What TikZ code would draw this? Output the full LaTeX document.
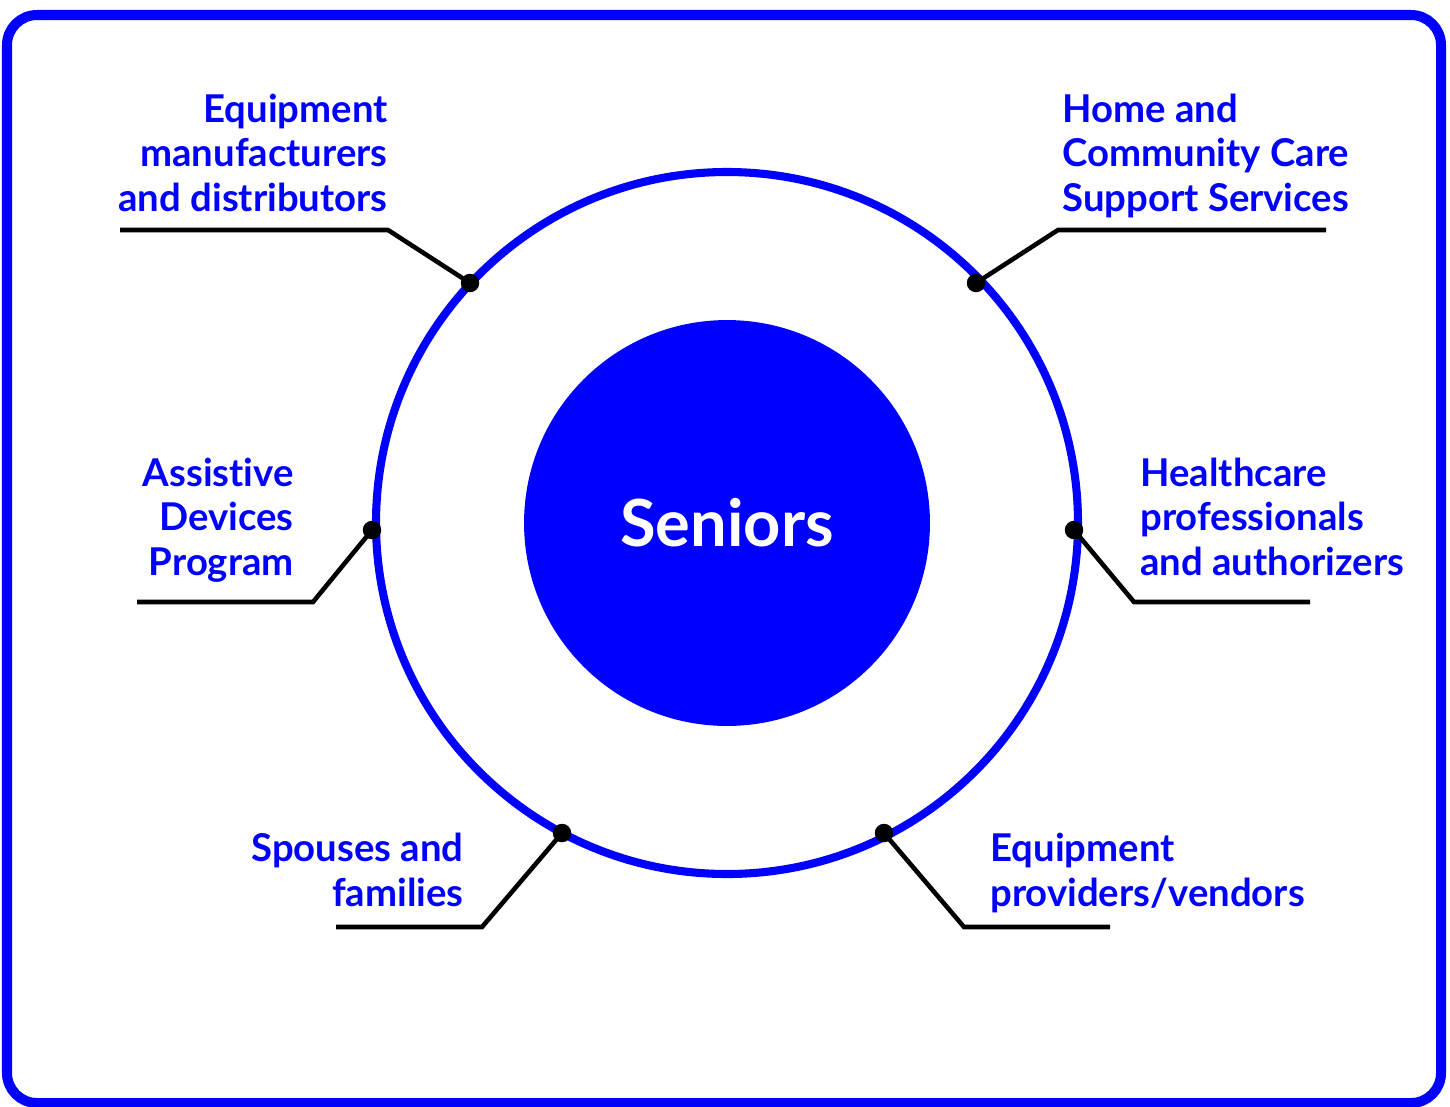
\documentclass[tikz,border=0pt]{standalone}
\usepackage{fontspec}
\setmainfont{Lato}[Ligatures={NoCommon}]
\usepackage{xcolor}
\definecolor{seniorblue}{RGB}{0,0,255}
\usetikzlibrary{positioning}

\tikzset{
  lbl/.style={text=seniorblue, font=\bfseries\fontsize{21.8}{25.3}\selectfont, inner sep=0pt},
  lead/.style={draw=black, line width=2.6pt},
  pin/.style={circle, fill=black, inner sep=0pt, minimum size=0.37cm}
}

\begin{document}
\begin{tikzpicture}[x=0.02cm, y=-0.02cm]

        \useasboundingbox (0,0) rectangle (1450,1106);
        \draw[seniorblue, line width=5.7pt, rounded corners=0.6cm] (7,15) rectangle (1441,1103);

        % rings
        \draw[seniorblue, line width=4.6pt] (727,523) circle (351);
        \node[circle, fill=seniorblue, minimum size=8.12cm, inner sep=0pt] (seniors) at (727,523) {};
        \node[text=white, font=\bfseries\fontsize{37}{40}\selectfont] at (seniors) {Seniors};

        % pins on the ring
        \node[pin] (p1) at (470,283) {};
        \node[pin] (p2) at (976,283) {};
        \node[pin] (p3) at (372,530) {};
        \node[pin] (p4) at (1074,530) {};
        \node[pin] (p5) at (562,833) {};
        \node[pin] (p6) at (884,833) {};

        \coordinate (k1) at (388,230);  \coordinate (e1) at (120,230);
        \coordinate (k2) at (1058,230); \coordinate (e2) at (1326,230);
        \coordinate (k3) at (313,602);  \coordinate (e3) at (137,602);
        \coordinate (k4) at (1134,602); \coordinate (e4) at (1310,602);
        \coordinate (k5) at (482,927);  \coordinate (e5) at (336,927);
        \coordinate (k6) at (964,927);  \coordinate (e6) at (1110,927);

        \draw[lead] (p1.center) -- (k1) -- (e1);
        \draw[lead] (p2.center) -- (k2) -- (e2);
        \draw[lead] (p3.center) -- (k3) -- (e3);
        \draw[lead] (p4.center) -- (k4) -- (e4);
        \draw[lead] (p5.center) -- (k5) -- (e5);
        \draw[lead] (p6.center) -- (k6) -- (e6);

        % labels (base = last line)
        \node[lbl, align=right, anchor=base east] (t1) at (388,211) {Equipment\\manufacturers\\and distributors};
        \node[lbl, align=left, anchor=base west] (t2) at (1062,211) {Home and\\Community Care\\Support Services};
        \node[lbl, align=right, anchor=base east] (t3) at (294,575) {Assistive\\Devices\\Program};
        \node[lbl, align=left, anchor=base west] (t4) at (1140,575) {Healthcare\\professionals\\and authorizers};
        \node[lbl, align=right, anchor=base east] (t5) at (464,906) {Spouses and\\families};
        \node[lbl, align=left, anchor=base west] (t6) at (990,906) {Equipment\\providers/vendors};

\end{tikzpicture}
\end{document}
